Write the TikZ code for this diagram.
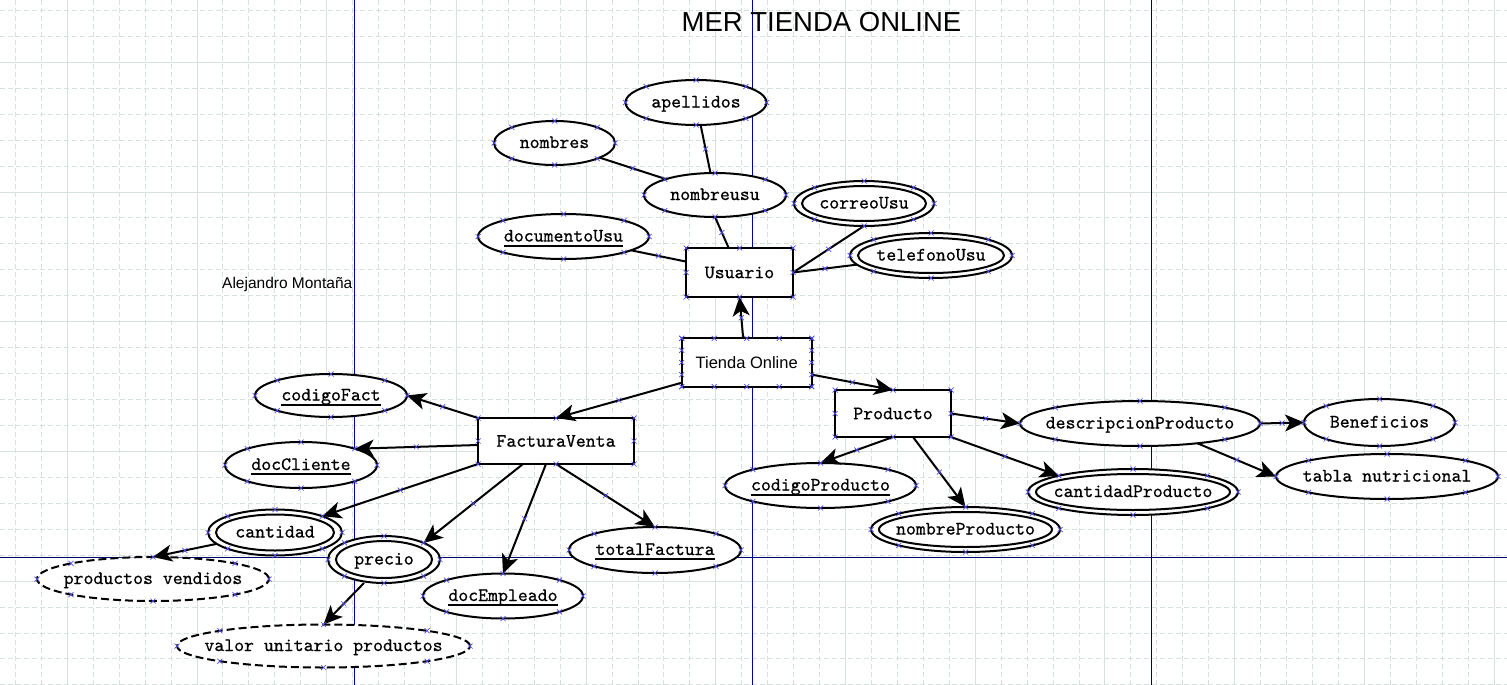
\documentclass[tikz,border=0pt]{standalone}
\usepackage{fontspec}
\newfontfamily\sansf{Liberation Sans}
\newfontfamily\monoff{lmmono10-regular.otf}[FakeBold=0.6]
\usetikzlibrary{arrows.meta,shapes.geometric,calc}
\definecolor{gridc}{RGB}{214,226,222}
\definecolor{navyA}{RGB}{0,0,175}
\definecolor{navyB}{RGB}{0,0,115}
\definecolor{xblue}{RGB}{80,80,235}
\newcommand\monof{\fontsize{18.9}{20}\selectfont\monoff}
\newcommand\ulx[1]{\setbox0\hbox{#1}\rlap{\smash{\rule[-5pt]{\wd0}{1.9pt}}}\box0}
\tikzset{
  minorline/.style={gridc,line width=0.9pt,dash pattern=on 5pt off 3pt},
  majorline/.style={gridc,line width=1pt},
  entbox/.style={rectangle,draw,line width=2pt,fill=white,inner sep=0pt,outer sep=0pt,font=\monof},
  attrbox/.style={ellipse,draw,line width=2pt,fill=white,inner sep=0pt,outer sep=0pt,font=\monof,text height=12pt,text depth=2pt},
  weakattr/.style={dash pattern=on 8pt off 4pt},
  conn/.style={line width=2pt},
  arr/.style={line width=2pt,-{Stealth[length=19pt,width=17pt,inset=5pt]}},
  xm/.pic={\draw[xblue,line width=0.7pt,solid,-] (-2.5,-2.5)--(2.5,2.5) (-2.5,2.5)--(2.5,-2.5);}
}
\newcommand\attrnode[7][]{\node[attrbox,#1,minimum width={2*#5},minimum height={2*#6}] (#2) at (#3,#4) {\makebox[0pt]{#7}};}
\newcommand\dblattr[6]{\attrnode{#1}{#2}{#3}{#4}{#5}{#6}\draw[line width=2pt] (#1.center) ellipse [x radius={#4-8}, y radius={#5-5}];}
\newcommand\xmarks[1]{\foreach \a in {north,south,east,west,north east,north west,south east,south west}{\pic at (#1.\a) {xm};}}
\begin{document}
\begin{tikzpicture}[x=1pt,y=-1pt]
\useasboundingbox (0,0) rectangle (1507,685);
\fill[white] (0,0) rectangle (1507,685);
% grid
\foreach \i in {-2,...,55}{\draw[minorline] ({67.3+25.94*\i},0) -- ({67.3+25.94*\i},685);}
\foreach \j in {-2,...,24}{\draw[minorline] (0,{62.3+25.94*\j}) -- (1507,{62.3+25.94*\j});}
\foreach \i in {0,...,11}{\draw[majorline] ({67.3+129.7*\i},0) -- ({67.3+129.7*\i},685);}
\foreach \j in {0,...,4}{\draw[majorline] (0,{62.3+129.7*\j}) -- (1507,{62.3+129.7*\j});}
\draw[navyA,line width=1pt] (354,0) -- (354,685) (752,0) -- (752,685);
\draw[navyB,line width=1pt] (1151,0) -- (1151,685) (0,557) -- (1507,557);
% texts
\node[anchor=base,font=\sansf\fontsize{27.5}{30}\selectfont,inner sep=0] (title) at (821.5,32) {MER TIENDA ONLINE};
\node[anchor=base west,font=\sansf\fontsize{15.5}{18}\selectfont,inner sep=0] (author) at (222,288) {Alejandro Montaña};
% entities
\node[entbox,minimum width=107,minimum height=49] (Usuario) at (739.5,272.5) {Usuario};
\node[entbox,minimum width=130,minimum height=48.4,font=\sansf\fontsize{16.5}{18}\selectfont] (Tienda) at (746.7,362.5) {Tienda Online};
\node[entbox,minimum width=156,minimum height=46] (FV) at (556,441) {FacturaVenta};
\node[entbox,minimum width=116,minimum height=47] (Producto) at (893,413.5) {Producto};
% attributes
\attrnode{apellidos}{696}{102.5}{70.5}{22.5}{apellidos}
\attrnode{nombres}{554.5}{143}{60.5}{22}{nombres}
\attrnode{nombreusu}{715}{195}{71}{22}{nombreusu}
\dblattr{correoUsu}{864}{203.5}{70}{22.5}{correoUsu}
\attrnode{documentoUsu}{563.5}{236.5}{85.5}{22.5}{\ulx{documentoUsu}}
\dblattr{telefonoUsu}{931}{255.5}{81}{22.5}{telefonoUsu}
\attrnode{codigoFact}{331}{395.5}{76}{21.5}{\ulx{codigoFact}}
\attrnode{docCliente}{301}{465}{76}{23}{\ulx{docCliente}}
\dblattr{cantidad}{275}{532.5}{67}{23}{cantidad}
\dblattr{precio}{384}{559.5}{56}{23.5}{precio}
\attrnode{totalFactura}{655}{550}{86}{23}{\ulx{totalFactura}}
\attrnode{docEmpleado}{503}{596}{80}{22.5}{\ulx{docEmpleado}}
\attrnode[weakattr]{prodvend}{153}{579}{116}{22}{productos vendidos}
\attrnode[weakattr]{valorunit}{323.5}{646}{146.5}{21.5}{valor unitario productos}
\attrnode{codigoProducto}{820.5}{485.5}{95.5}{22.5}{\ulx{codigoProducto}}
\dblattr{nombreProducto}{965.5}{529.5}{94.5}{22.5}{nombreProducto}
\dblattr{cantidadProducto}{1133}{492}{105}{23}{cantidadProducto}
\attrnode{descripcionProducto}{1140}{423.5}{120}{22.5}{descripcionProducto}
\attrnode{Beneficios}{1379.5}{422.5}{75.5}{23.5}{Beneficios}
\attrnode{tablaNutri}{1387}{476.5}{111}{22.5}{tabla nutricional}
% plain connectors
\draw[conn] (apellidos) -- pic[pos=.5]{xm} (nombreusu);
\draw[conn] (nombres) -- pic[pos=.5]{xm} (nombreusu);
\draw[conn] (nombreusu.south) -- pic[pos=.5]{xm} (Usuario);
\draw[conn] (documentoUsu) -- pic[pos=.5]{xm} (Usuario);
\draw[conn] (correoUsu.south) -- pic[pos=.5]{xm} (Usuario.east);
\draw[conn] (telefonoUsu) -- pic[pos=.5]{xm} (Usuario.east);
% arrows
\draw[arr] ([xshift=-3.5pt]Tienda.north) -- pic[pos=.5]{xm} (Usuario.south);
\draw[arr] ([yshift=4pt]Tienda.south west) -- pic[pos=.5]{xm} (FV.north);
\draw[arr] ($(Tienda.north east)!0.75!(Tienda.south east)$) -- pic[pos=.5]{xm} (Producto.north);
\draw[arr] (FV.north west) -- pic[pos=.5]{xm} (codigoFact.east);
\draw[arr] ([yshift=-4pt]FV.west) -- pic[pos=.5]{xm} (docCliente.north east);
\draw[arr] (FV.south west) -- pic[pos=.5]{xm} (cantidad.north east);
\draw[arr] ([xshift=-33pt]FV.south) -- pic[pos=.5]{xm} (precio.north east);
\draw[arr] ([xshift=-10pt]FV.south) -- pic[pos=.5]{xm} (docEmpleado.north);
\draw[arr] (FV.south) -- pic[pos=.5]{xm} (totalFactura.north);
\draw[arr] (cantidad.191) -- pic[pos=.5]{xm} (prodvend.north);
\draw[arr] ([xshift=-20pt]precio.south) -- pic[pos=.5]{xm} (valorunit.north);
\draw[arr] (Producto.east) -- pic[pos=.5]{xm} (descripcionProducto.west);
\draw[arr] (Producto.south) -- pic[pos=.5]{xm} (codigoProducto.north);
\draw[arr] ([xshift=20pt]Producto.south) -- pic[pos=.5]{xm} (nombreProducto.north);
\draw[arr] (Producto.south east) -- pic[pos=.5]{xm} (cantidadProducto.north west);
\draw[arr] (descripcionProducto.east) -- pic[pos=.5]{xm} (Beneficios.west);
\draw[arr] (descripcionProducto.341) -- pic[pos=.5]{xm} (tablaNutri.west);
% connection point marks
\foreach \n in {Usuario,FV,Producto,apellidos,nombres,nombreusu,correoUsu,documentoUsu,telefonoUsu,codigoFact,docCliente,cantidad,precio,totalFactura,docEmpleado,prodvend,valorunit,codigoProducto,nombreProducto,cantidadProducto,descripcionProducto,Beneficios,tablaNutri}{\xmarks{\n}}
\foreach \f in {0,0.25,0.5,0.75,1}{
  \pic at ($(Tienda.north west)!\f!(Tienda.north east)$) {xm};
  \pic at ($(Tienda.south west)!\f!(Tienda.south east)$) {xm};
  \pic at ($(Tienda.north west)!\f!(Tienda.south west)$) {xm};
  \pic at ($(Tienda.north east)!\f!(Tienda.south east)$) {xm};
}
\end{tikzpicture}
\end{document}
